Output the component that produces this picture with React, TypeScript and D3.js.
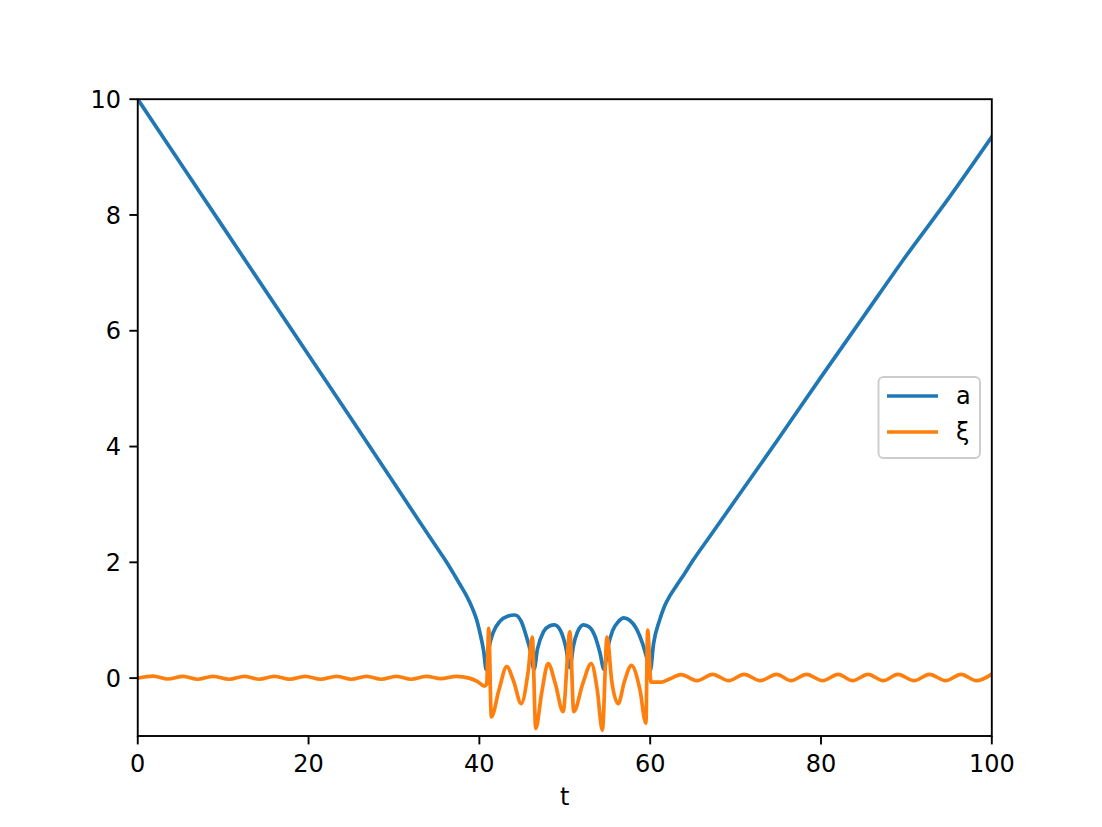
import React from 'react';
import * as d3 from 'd3';

// a(t)
const aT = [0, 10, 20, 25, 30, 33, 35, 36, 37, 37.8, 38.5, 39.2, 39.7, 40.1, 40.5, 40.8,
  41.1, 41.6, 42.4, 43.3, 44.15, 44.9, 45.5, 46.0, 46.4,
  46.8, 47.5, 48.2, 48.8, 49.5, 50.1, 50.6,
  51.0, 51.5, 52.2, 52.9, 53.6, 54.1, 54.6,
  55.0, 55.6, 56.3, 56.9, 57.6, 58.4, 59.1, 59.6, 60.0,
  60.4, 61.1, 61.7, 62.3, 63.0, 64.0, 65.0, 67.0, 70, 75, 80, 85, 90, 95, 100];
const aVals = [10, 7.79, 5.58, 4.48, 3.37, 2.7, 2.26, 2.04, 1.8, 1.6, 1.42, 1.2, 1.0, 0.76, 0.47, 0.15,
  0.5, 0.78, 0.98, 1.07, 1.09, 0.98, 0.72, 0.45, 0.15,
  0.5, 0.8, 0.9, 0.92, 0.82, 0.55, 0.18,
  0.55, 0.8, 0.92, 0.88, 0.7, 0.45, 0.15,
  0.5, 0.82, 0.98, 1.04, 1.0, 0.85, 0.6, 0.35, 0.12,
  0.6, 1.0, 1.25, 1.42, 1.58, 1.8, 2.03, 2.45, 3.08, 4.13, 5.2, 6.25, 7.3, 8.3, 9.35];

// xi(t)
const xiT = [0, 1.8, 3.5, 5.3, 7.0, 8.8, 10.7, 12.5, 14.2, 16.0, 17.8, 19.6, 21.4, 23.3, 25.0,
  26.8, 28.5, 30.3, 32.0, 33.8, 35.5, 37.3, 38.8, 39.8, 40.6, 40.85,
  41.1, 41.4, 42.3, 43.2, 44.0, 44.9, 45.7, 46.2, 46.6, 47.3, 48.05, 48.9, 49.8,
  50.6, 51.05, 52.1, 53.1, 53.8, 54.4, 54.95, 55.5, 56.25, 57.0, 57.8, 58.8, 59.5,
  59.7, 60.1, 61.3, 62.2, 63.6, 65.5, 67.3, 69.2, 71.0, 72.9, 74.8, 76.5, 78.3, 80.2,
  82.0, 83.7, 85.5, 87.3, 89.0, 90.9, 92.7, 94.6, 96.4, 98.2, 100];
const xiVals = [0, 0.035, -0.015, 0.03, -0.02, 0.03, -0.02, 0.03, -0.02, 0.03, -0.02, 0.03, -0.02, 0.03, -0.02,
  0.03, -0.02, 0.03, -0.02, 0.03, -0.01, 0.03, 0.0, -0.06, -0.14, -0.1,
  0.86, -0.67, -0.2, 0.2, -0.05, -0.44, 0.1, 0.71, -0.87, -0.25, 0.25, -0.1, -0.58,
  0.8, -0.58, -0.1, 0.25, -0.2, -0.9, 0.71, -0.05, -0.44, -0.05, 0.22, -0.2, -0.78,
  0.83, -0.07, -0.07, -0.02, 0.06, -0.045, 0.065, -0.045, 0.065, -0.045, 0.065, -0.045, 0.065, -0.045,
  0.065, -0.045, 0.065, -0.045, 0.065, -0.045, 0.065, -0.045, 0.065, -0.045, 0.07];

const xTicks = [0, 20, 40, 60, 80, 100];
const yTicks = [0, 2, 4, 6, 8, 10];
const seriesNames = ['a', 'ξ'];
const colors = ['#1f77b4', '#ff7f0e'];

const W = 1102, H = 827;
const left = 137.75, right = 991.8, top = 99.2, bottom = 736;
const font = '"DejaVu Sans", sans-serif';

export default function App() {
  const x = d3.scaleLinear().domain([0, 100]).range([left, right]);
  const y = d3.scaleLinear().domain([-1, 10]).range([bottom, top]);
  const line = d3.line<[number, number]>()
    .x(d => x(d[0])).y(d => y(d[1]))
    .curve(d3.curveMonotoneX);
  const aPath = line(aT.map((t, i) => [t, aVals[i]] as [number, number])) || '';
  const xiPath = line(xiT.map((t, i) => [t, xiVals[i]] as [number, number])) || '';
  const tick = 8.4;

  return (
    <svg width={W} height={H} style={{position: 'absolute', left: 0, top: 0, background: '#fff'}}
      fontFamily={font}>
      <rect x={0} y={0} width={W} height={H} fill="#fff" />
      <defs>
        <clipPath id="plot"><rect x={left} y={top} width={right - left} height={bottom - top} /></clipPath>
      </defs>
      <g clipPath="url(#plot)">
        <path d={aPath} fill="none" stroke={colors[0]} strokeWidth={3.7} strokeLinejoin="round" strokeLinecap="square" />
        <path d={xiPath} fill="none" stroke={colors[1]} strokeWidth={3.7} strokeLinejoin="round" strokeLinecap="square" />
      </g>
      <rect x={left} y={top} width={right - left} height={bottom - top} fill="none" stroke="#000" strokeWidth={1.9} />
      {xTicks.map(v => (
        <g key={'x' + v}>
          <line x1={x(v)} x2={x(v)} y1={bottom} y2={bottom + tick} stroke="#000" strokeWidth={1.9} />
          <text x={x(v)} y={772} textAnchor="middle" fontSize={24}>{v}</text>
        </g>
      ))}
      {yTicks.map(v => (
        <g key={'y' + v}>
          <line x1={left - tick} x2={left} y1={y(v)} y2={y(v)} stroke="#000" strokeWidth={1.9} />
          <text x={left - 2 * tick} y={y(v) + 8.7} textAnchor="end" fontSize={24}>{v}</text>
        </g>
      ))}
      <text x={(left + right) / 2} y={805} textAnchor="middle" fontSize={24}>t</text>
      <g>
        <rect x={878.5} y={377} width={101.5} height={81} rx={5} fill="#fff" fillOpacity={0.8}
          stroke="#cccccc" strokeWidth={1.9} />
        {seriesNames.map((n, i) => (
          <g key={n}>
            <line x1={887} x2={938} y1={396 + i * 36} y2={396 + i * 36} stroke={colors[i]} strokeWidth={3.7} />
            <text x={956} y={404 + i * 36} fontSize={24}>{n}</text>
          </g>
        ))}
      </g>
    </svg>
  );
}
